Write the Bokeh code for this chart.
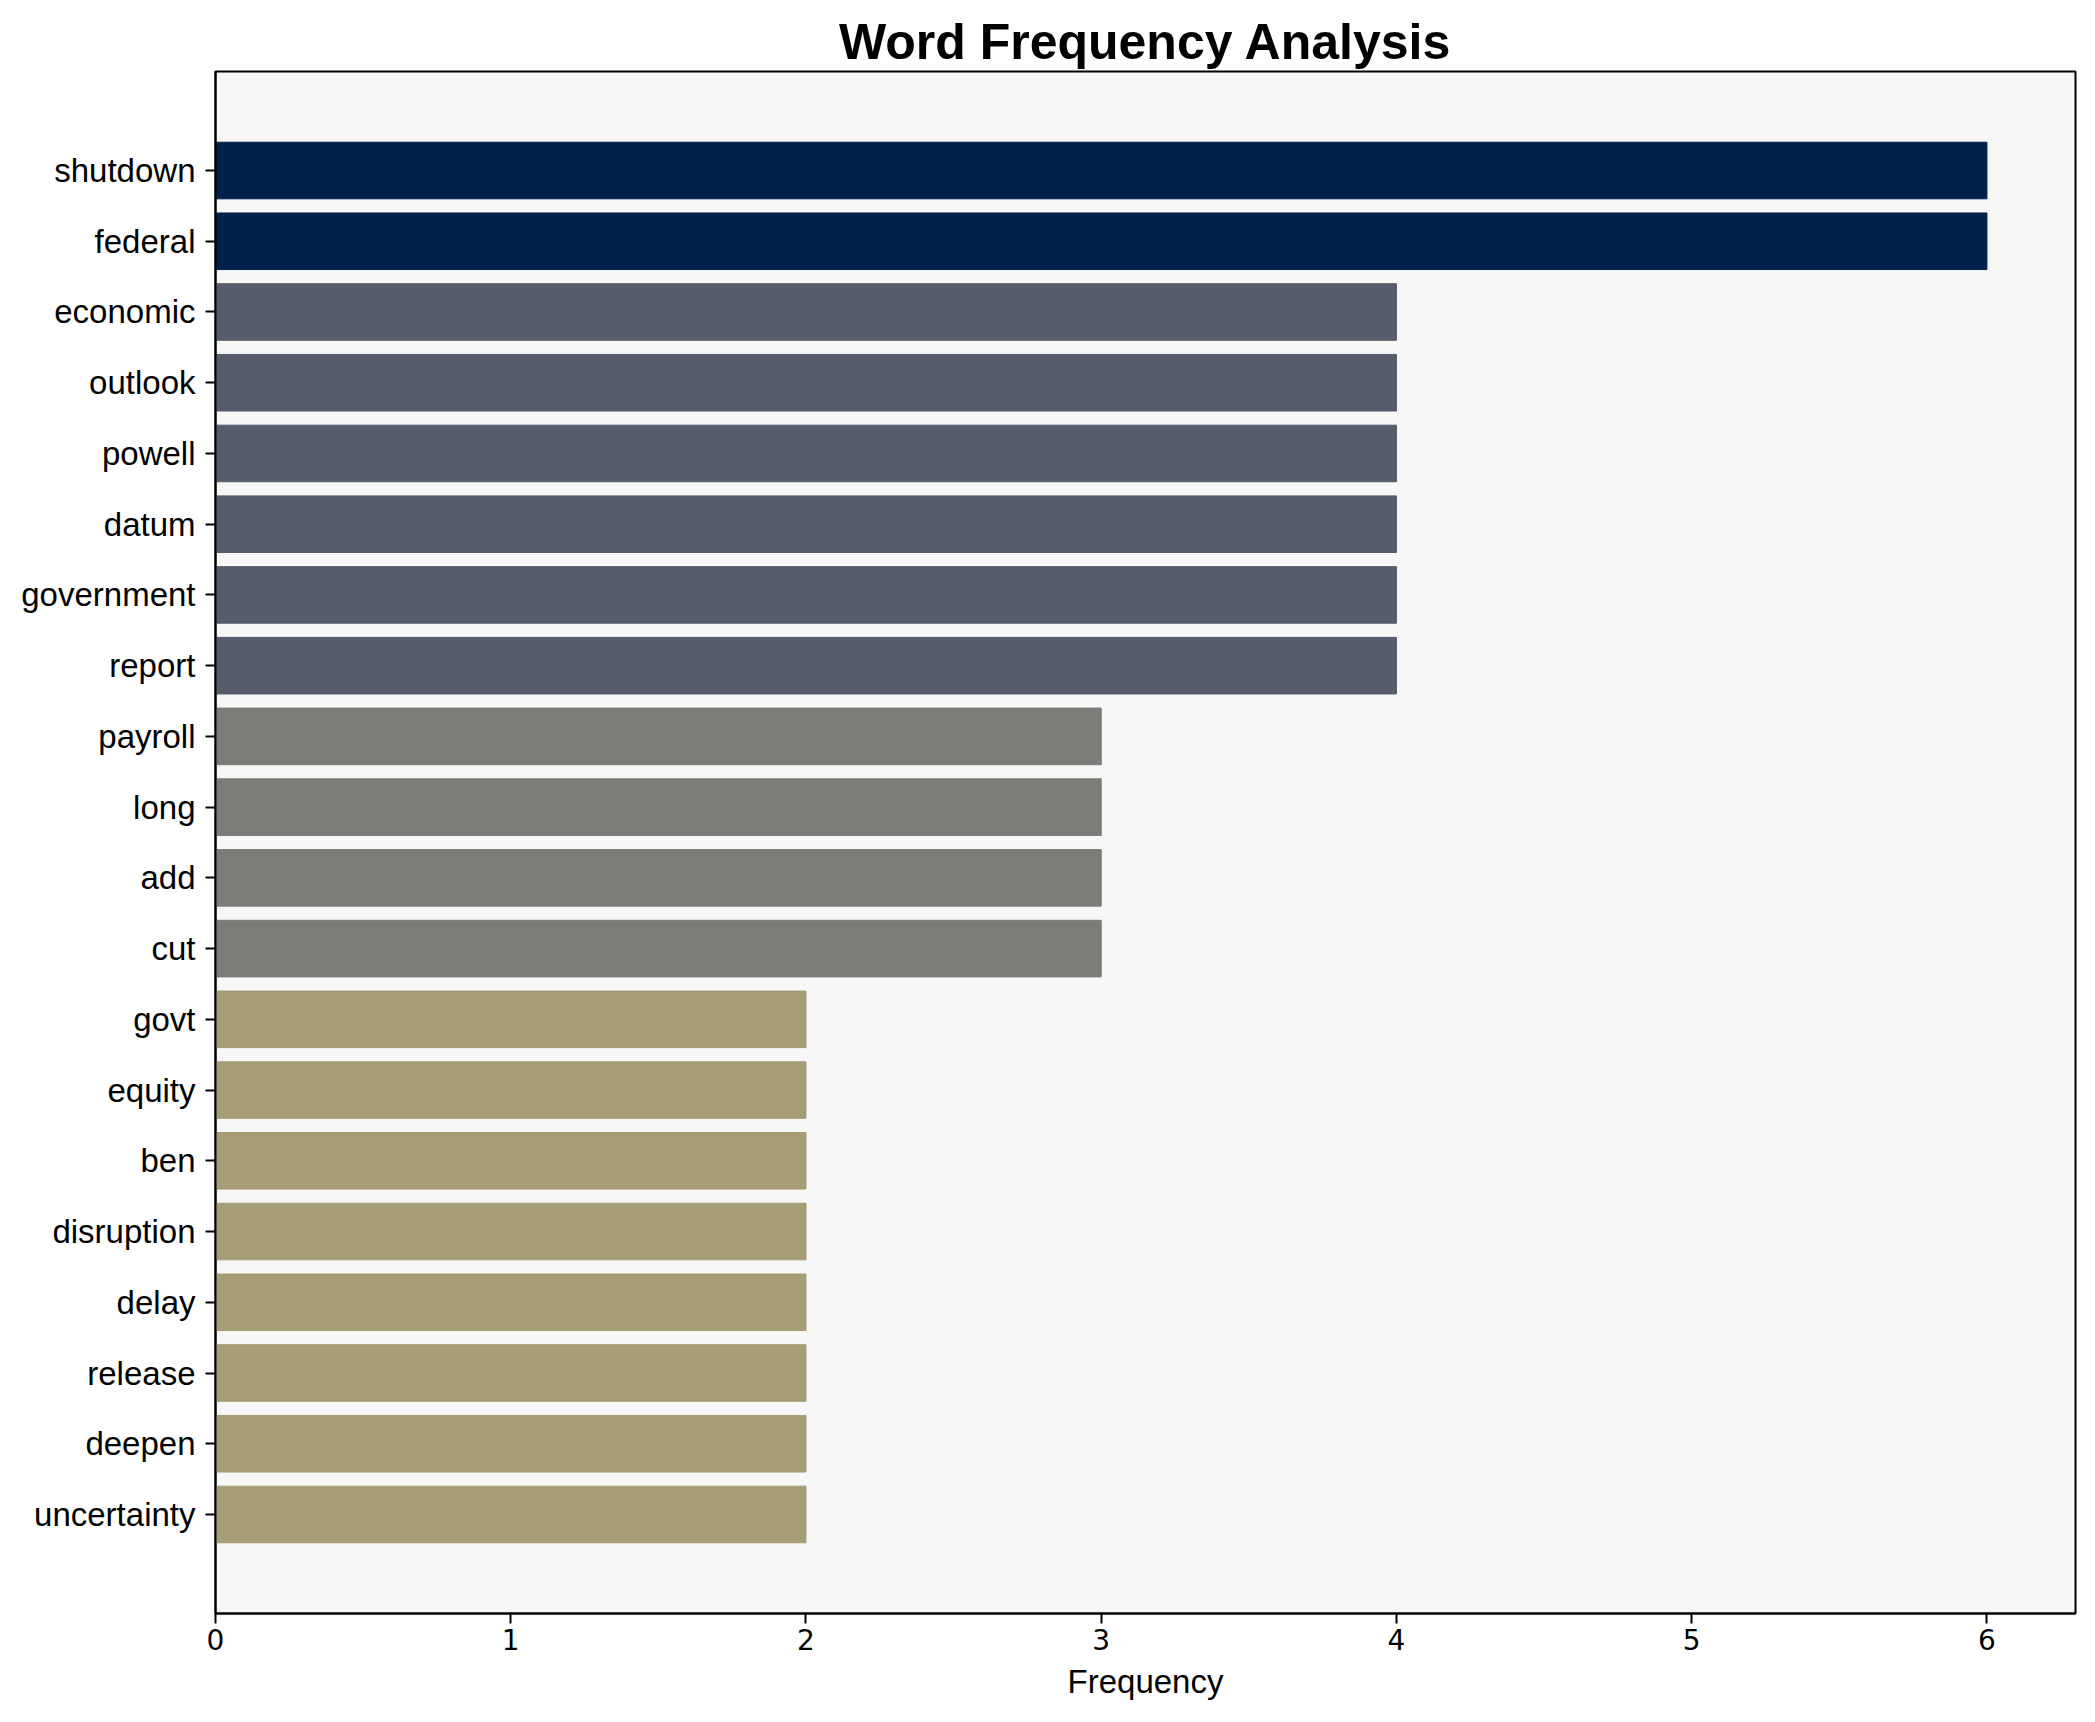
from bokeh.plotting import figure
from bokeh.models import FactorRange, Range1d, SingleIntervalTicker, ColumnDataSource
from bokeh.palettes import Cividis256
from bokeh.embed import file_html
from bokeh.resources import INLINE

words = ["shutdown", "federal", "economic", "outlook", "powell", "datum",
         "government", "report", "payroll", "long", "add", "cut", "govt",
         "equity", "ben", "disruption", "delay", "release", "deepen", "uncertainty"]
counts = [6, 6, 4, 4, 4, 4, 4, 4, 3, 3, 3, 3, 2, 2, 2, 2, 2, 2, 2, 2]

vmax = max(counts)
colors = [Cividis256[min(255, int((vmax - c) / vmax * 256))] for c in counts]

src = ColumnDataSource(dict(word=words, count=counts, color=colors))

FONT = "Liberation Sans"

p = figure(width=2087, height=1714, output_backend="svg", toolbar_location=None,
           y_range=FactorRange(factors=list(reversed(words)), range_padding=0.9,
                               range_padding_units="absolute"),
           x_range=Range1d(0, 6.3),
           title="Word Frequency Analysis",
           min_border_left=215, min_border_right=12, min_border_top=71,
           min_border_bottom=101)

p.hbar(y="word", right="count", left=0, height=0.8, color="color", source=src)

p.background_fill_color = "#F7F7F7"
p.border_fill_color = "white"
p.outline_line_color = "black"
p.outline_line_width = 2
p.grid.visible = False

p.title.text_font = FONT
p.title.text_font_size = "50px"
p.title.text_font_style = "bold"
p.title.text_color = "black"
p.title.align = "center"
p.title.standoff = 4

p.xaxis.ticker = SingleIntervalTicker(interval=1)
p.xaxis.axis_label = "Frequency"
p.xaxis.axis_label_text_font = FONT
p.xaxis.axis_label_text_font_size = "33px"
p.xaxis.axis_label_text_font_style = "normal"
p.xaxis.axis_label_text_color = "black"
p.xaxis.axis_label_standoff = 10

for ax in (p.xaxis, p.yaxis):
    ax.major_label_text_color = "black"
    ax.major_tick_in = 0
    ax.major_tick_out = 10
    ax.major_tick_line_width = 2
    ax.major_tick_line_color = "black"
    ax.minor_tick_line_color = None
    ax.axis_line_width = 2
    ax.axis_line_color = "black"

p.yaxis.major_label_text_font = FONT
p.yaxis.major_label_text_font_size = "33px"
p.yaxis.major_label_standoff = 10

p.xaxis.major_label_text_font = "DejaVu Sans"
p.xaxis.major_label_text_font_size = "28px"
p.xaxis.major_label_standoff = 5

open("out.html", "w").write(file_html(p, INLINE))
